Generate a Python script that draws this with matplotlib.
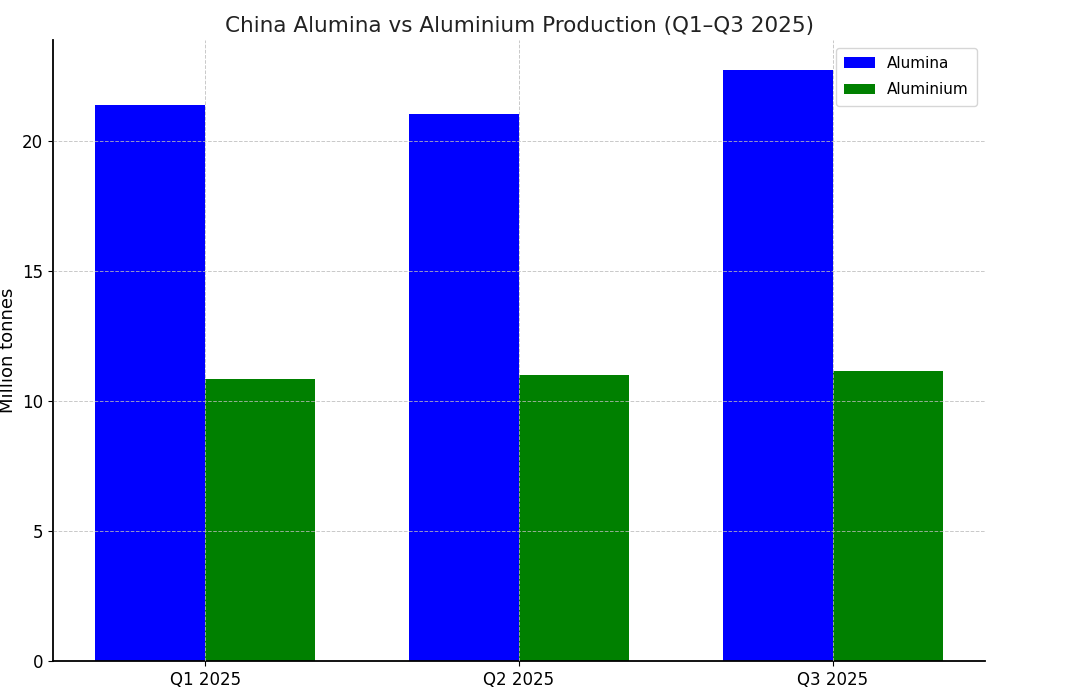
import numpy as np
import matplotlib.pyplot as plt

quarters = ["Q1 2025", "Q2 2025", "Q3 2025"]
alumina = [21.4, 21.05, 22.75]
aluminium = [10.85, 11.0, 11.15]


def plot_production():
    fig = plt.figure(figsize=(10.83, 6.97), dpi=100)
    ax = fig.add_axes([0.049, 0.0517, 0.8605, 0.891])

    x = np.arange(len(quarters))
    width = 0.35

    ax.bar(x - width / 2, alumina, width, color="blue", label="Alumina")
    ax.bar(x + width / 2, aluminium, width, color="green", label="Aluminium")

    ax.set_xticks(x)
    ax.set_xticklabels(quarters, fontsize=12)
    ax.tick_params(axis="y", labelsize=12)
    ax.set_ylabel("Million tonnes", fontsize=13)
    ax.set_title("China Alumina vs Aluminium Production (Q1–Q3 2025)", fontsize=15.5, color="#222222")

    ax.grid(True, linestyle="--", linewidth=0.7, color="#bbbbbb", alpha=0.8)
    ax.set_axisbelow(False)
    ax.spines["top"].set_visible(False)
    ax.spines["right"].set_visible(False)
    ax.spines["left"].set_linewidth(1.3)
    ax.spines["bottom"].set_linewidth(1.3)
    ax.legend(loc="upper right", fontsize=11, labelspacing=0.75, borderpad=0.55)

    fig.savefig("out.png", dpi=100)


if __name__ == "__main__":
    plot_production()
